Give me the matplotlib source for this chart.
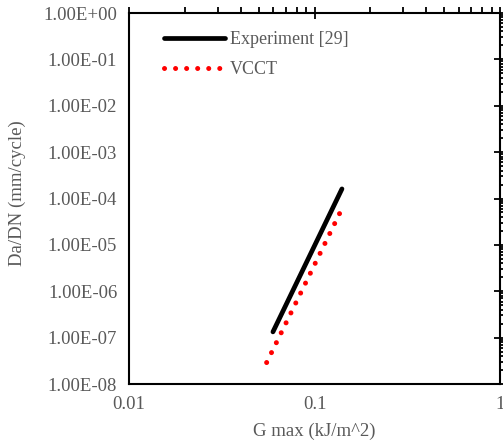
import matplotlib
matplotlib.use('Agg')
from matplotlib import pyplot as plt
from matplotlib.ticker import FuncFormatter, LogLocator

# data
exp_g = [0.0597, 0.1406]
exp_rate = [1.33e-7, 1.61e-4]
vcct_g = [0.0552, 0.1384]
vcct_rate = [2.9e-8, 5.3e-5]

grey = '#595959'
plt.rcParams['font.family'] = ['Liberation Serif', 'DejaVu Serif']

fig = plt.figure(figsize=(5.03, 4.48), dpi=100)
ax = fig.add_axes([129 / 503, 1 - 384 / 448, 371 / 503, 371 / 448])

ax.plot(exp_g, exp_rate, color='black', lw=3.4, solid_capstyle='round',
        label='Experiment [29]')
ax.plot(vcct_g, vcct_rate, color='red', lw=3.6, dash_capstyle='round',
        linestyle=(0, (0.01, 2.2)), label='VCCT')

ax.set_xscale('log')
ax.set_yscale('log')
ax.set_xlim(0.01, 1)
ax.set_ylim(1e-8, 1)

ax.xaxis.set_major_locator(LogLocator(base=10, numticks=10))
ax.yaxis.set_major_locator(LogLocator(base=10, numticks=20))
ax.xaxis.set_major_formatter(FuncFormatter(lambda v, p: f'{v:g}'))
ax.yaxis.set_major_formatter(FuncFormatter(lambda v, p: f'{v:.2E}'))

# axis lines sit on top and right (Excel style), labels stay low
ax.tick_params(which='both', bottom=False, left=False, top=True, right=True,
               labelbottom=True, labelleft=True, labeltop=False, labelright=False,
               colors='black', labelcolor=grey, labelsize=13.5, width=1.3)
ax.tick_params(which='major', direction='inout', length=9, pad=4)
ax.tick_params(which='minor', direction='out', length=4)
ax.tick_params(axis='x', which='minor', labelbottom=False)
ax.tick_params(axis='y', which='minor', labelleft=False)

for s in ax.spines.values():
    s.set_linewidth(1.5)
    s.set_color('black')

ax.set_xlabel('G max (kJ/m^2)', color=grey, fontsize=13.5)
ax.set_ylabel('Da/DN (mm/cycle)', color=grey, fontsize=13.5)
ax.xaxis.set_label_coords(0.5, -0.105)
ax.yaxis.set_label_coords(-0.278, 0.515)

ax.legend(loc='upper left', bbox_to_anchor=(0.05, 0.995), frameon=False,
          fontsize=13, labelcolor=grey, handlelength=3.4, handletextpad=0.25,
          labelspacing=0.72)

fig.savefig('out.png', dpi=100)
